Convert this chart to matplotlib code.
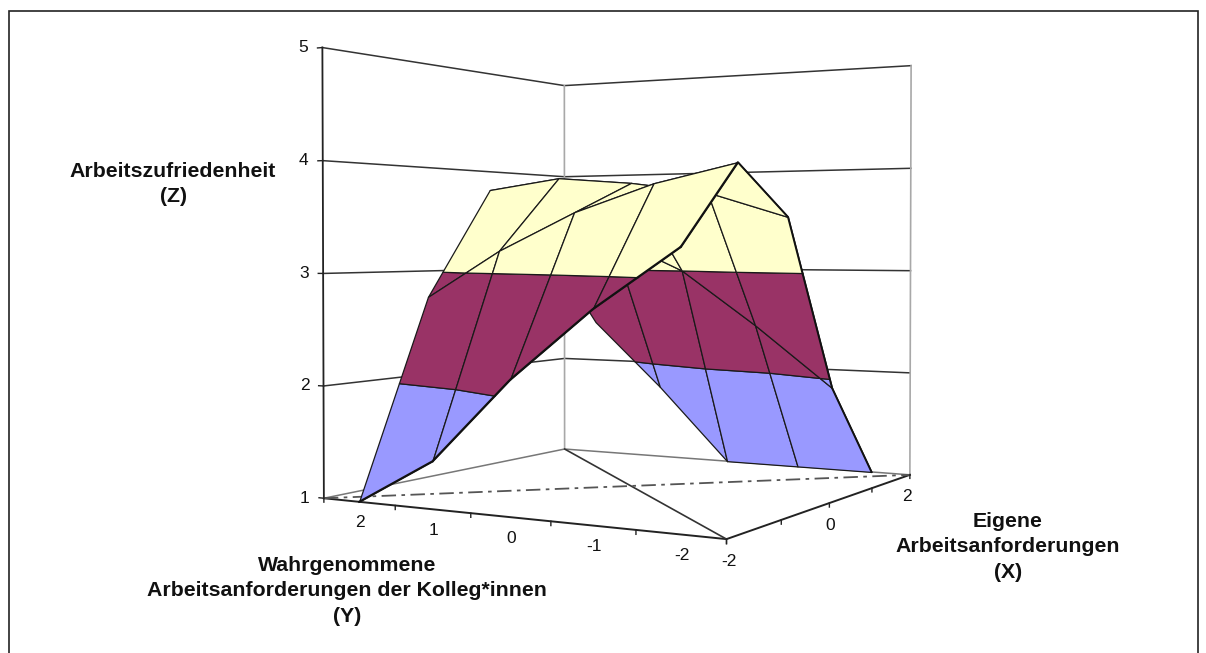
import numpy as np
import matplotlib
matplotlib.use("Agg")
import matplotlib.pyplot as plt
from matplotlib.patches import Rectangle
from mpl_toolkits.mplot3d import proj3d
from mpl_toolkits.mplot3d.art3d import Poly3DCollection

plt.rcParams['font.family'] = ['Liberation Sans', 'DejaVu Sans']

# Data
x_values = [-2, -1, 0, 1, 2]
y_values = [-2, -1, 0, 1, 2]
# one row per x value, columns follow y_values
z_values = np.array([
    [3.24, 2.74, 2.14, 1.41, 1.00],
    [3.94, 3.78, 3.54, 3.20, 2.77],
    [3.50, 3.73, 3.83, 3.89, 3.79],
    [1.91, 2.48, 3.00, 3.33, 3.27],
    [1.00, 1.00, 1.00, 1.74, 2.41],
])
z_ticks = [1, 2, 3, 4, 5]
y_tick_labels = [2, 1, 0, -1, -2]
x_tick_labels = [-2, 0, 2]
bands = [(1, 2, '#9999ff'), (2, 3, '#993366'), (3, 4, '#ffffcc')]


def clip_band(quad, zlo, zhi):
    # cut one grid cell down to the part between two z levels
    poly = list(quad)
    for level, keep_below in [(zlo, False), (zhi, True)]:
        result = []
        for i in range(len(poly)):
            a = poly[i]
            b = poly[(i + 1) % len(poly)]
            a_in = a[2] <= level if keep_below else a[2] >= level
            b_in = b[2] <= level if keep_below else b[2] >= level
            if a_in:
                result.append(a)
            if a_in != b_in:
                t = (level - a[2]) / (b[2] - a[2])
                result.append(tuple(a[k] + t * (b[k] - a[k]) for k in range(3)))
        poly = result
        if not poly:
            break
    return poly


fig = plt.figure(figsize=(12.06, 6.53), dpi=100)
fig.add_artist(Rectangle((8.5 / 1206, -0.01), 1189 / 1206, 1 - 11 / 653 + 0.01, transform=fig.transFigure,
                         fill=False, edgecolor='#222222', linewidth=1.2))

ax = fig.add_axes([260.6 / 1206, 10.6 / 653, 721.3 / 1206, 721.3 / 653], projection='3d')
ax.computed_zorder = False
ax.set_axis_off()
ax.set_xlim(-2, 2, view_margin=0)
ax.set_ylim(-2.5, 2.5, view_margin=0)
ax.set_zlim(1, 5, view_margin=0)
ax.set_box_aspect((1, 1, 1))
ax.set_proj_type('persp', focal_length=0.4168)
ax.view_init(elev=1, azim=-150)

xa, xb = -2, 2
ya, yb = -2.5, 2.5
za, zb = 1, 5


def line(xs, ys, zs, color='#333333', lw=1.0, ls='-', zorder=1):
    ax.plot(xs, ys, zs, color=color, lw=lw, ls=ls, zorder=zorder)


# wall lines
for z in z_ticks:
    line([xa, xb, xb], [yb, yb, ya], [z, z, z], color='#333333' if z > 1 else '#777777', lw=1.1)
line([xb, xb], [yb, yb], [za, zb], color='#a8a8a8', lw=1.2)
line([xb, xb], [ya, ya], [za, zb], color='#a8a8a8', lw=1.2)
line([xa, xa], [yb, yb], [za, zb], color='#222222', lw=1.3)

# floor lines
line([xa, xa, xb], [yb, ya, ya], [za, za, za], color='#222222', lw=1.4)
line([xb, xa], [yb, ya], [za, za], color='#333333', lw=1.2)
line([xa, xb], [yb, ya], [za, za], color='#555555', lw=1.3, ls=(0, (8, 3, 2, 3)))

# tick marks
for edge in np.arange(ya, yb + 0.5, 1):
    line([xa, xa], [edge, edge], [za, za - 0.035], color='#222222', zorder=2)
for tick in x_values:
    line([tick, tick], [ya, ya], [za, za - 0.035], color='#222222', zorder=2)
for z in z_ticks:
    line([xa, xa], [yb, yb + 0.07], [z, z], color='#222222', zorder=2)

# surface, drawn cell by cell from the far corner to the near one
order = 10
for i in range(len(x_values) - 2, -1, -1):
    for j in range(len(y_values) - 2, -1, -1):
        quad = [(x_values[i], y_values[j], z_values[i, j]),
                (x_values[i + 1], y_values[j], z_values[i + 1, j]),
                (x_values[i + 1], y_values[j + 1], z_values[i + 1, j + 1]),
                (x_values[i], y_values[j + 1], z_values[i, j + 1])]
        for zlo, zhi, color in bands:
            poly = clip_band(quad, zlo, zhi)
            if len(poly) >= 3:
                coll = Poly3DCollection([poly], facecolors=color, edgecolors='#1a1a1a', linewidths=0.9)
                coll.set_zorder(order)
                ax.add_collection3d(coll)
                order += 1

# heavier front edges of the surface
line([x_values[0]] * 5, y_values, z_values[0], color='#111111', lw=1.4, zorder=order)
line(x_values, [y_values[0]] * 5, z_values[:, 0], color='#111111', lw=1.4, zorder=order)

# tick labels, placed from the projected axis positions
M = ax.get_proj()


def tick_label(x, y, z, text, dx, dy):
    px, py, _ = proj3d.proj_transform(x, y, z, M)
    ax.annotate(str(text), xy=(px, py), xytext=(dx, dy), textcoords='offset pixels',
                ha='center', va='center', fontsize=12.5, color='#111111',
                annotation_clip=False, zorder=order + 1)


for z in z_ticks:
    tick_label(xa, yb, z, z, -19, 0)
for y in y_tick_labels:
    tick_label(xa, y, za, y, 1, -21)
for x, dx in zip(x_tick_labels, [2, 1, -3]):
    tick_label(x, ya, za, x, dx, -22)

# axis titles
title_style = dict(ha='center', va='center', fontsize=15.3, fontweight='bold', color='#111111', linespacing=1.44)
fig.text(173 / 1206, 1 - 184 / 653, 'Arbeitszufriedenheit\n(Z)', **title_style)
fig.text(347 / 1206, 1 - 591 / 653, 'Wahrgenommene\nArbeitsanforderungen der Kolleg*innen\n(Y)', **title_style)
fig.text(1008 / 1206, 1 - 547 / 653, 'Eigene\nArbeitsanforderungen\n(X)', **title_style)

fig.savefig('out.png', dpi=100)
